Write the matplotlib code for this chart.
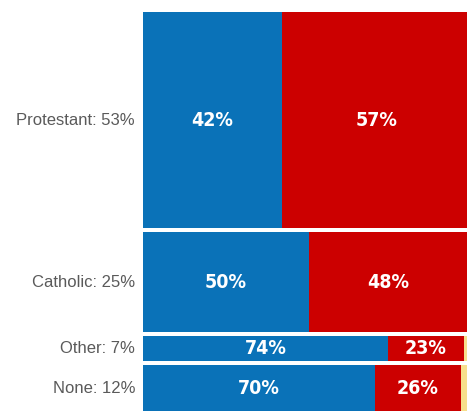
import matplotlib.pyplot as plt
from matplotlib import font_manager
import numpy as np

# DATA
groups = ['Protestant', 'Catholic', 'Other', 'None']
group_share = [53, 25, 7, 12]
blue_pct = [42, 50, 74, 70]
red_pct = [57, 48, 23, 26]
other_pct = [100 - b - r for b, r in zip(blue_pct, red_pct)]

colors = ['#0a72b8', '#cc0000', '#f7df8c']
gap = 0.95  # white space between rows, in share units

# condensed bold face for the numbers, if one is around
narrow = None
for f in font_manager.fontManager.ttflist:
    if 'Condensed' in f.fname and 'Bold' in f.fname and 'Oblique' not in f.fname \
            and 'DejaVuSans' in f.fname.replace('-', '').replace(' ', ''):
        narrow = f.fname
        break
num_font = font_manager.FontProperties(fname=narrow, size=14) if narrow else \
    font_manager.FontProperties(family='DejaVu Sans', weight='bold', size=12)

fig = plt.figure(figsize=(4.67, 4.16), dpi=100)
# axes extends past the right edge: the source picture is cropped there
ax = fig.add_axes([143 / 467, 0.0072, 331 / 467, 0.9675])

tops = np.cumsum([0] + group_share[:-1])
heights = np.array(group_share) - gap
ys = tops + gap / 2

for i, g in enumerate(groups):
    left = 0
    for val, col in zip([blue_pct[i], red_pct[i], other_pct[i]], colors):
        ax.barh(ys[i], val, height=heights[i], left=left, align='edge',
                color=col, linewidth=0)
        if col != colors[2]:
            ax.text(left + val / 2, ys[i] + heights[i] / 2, f'{val}%',
                    ha='center', va='center', color='white',
                    fontproperties=num_font)
        left += val
    ax.text(-2.4, ys[i] + heights[i] / 2, f'{g}: {group_share[i]}%',
            ha='right', va='center', color='#5a5a5a', fontsize=12,
            family='Liberation Sans')

ax.set_xlim(0, 100)
ax.set_ylim(sum(group_share), 0)
ax.axis('off')

fig.savefig('out.png', dpi=100)
